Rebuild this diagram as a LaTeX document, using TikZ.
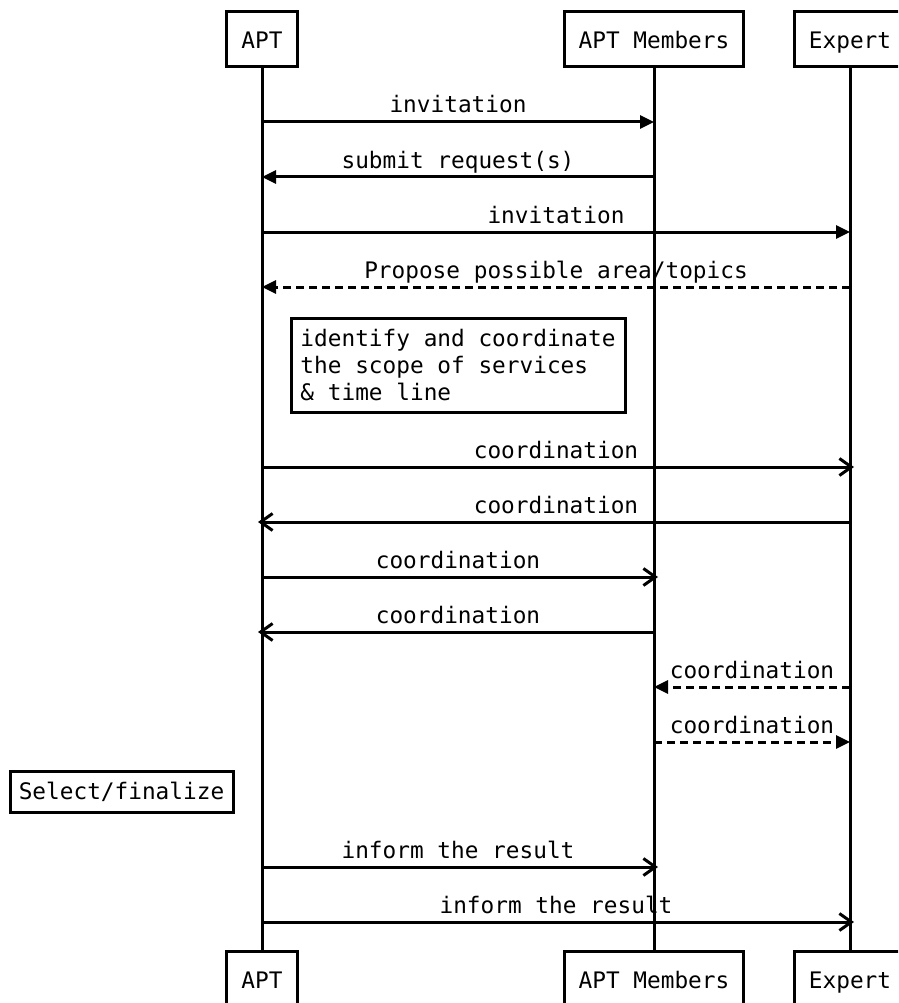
\documentclass[tikz,border=0pt]{standalone}
\usepackage{fontspec}
\newfontfamily\dvm{DejaVu Sans Mono}
\usetikzlibrary{arrows.meta}
\begin{document}
\begin{tikzpicture}[x=1pt,y=-1pt,
  every node/.style={font=\dvm\fontsize{22.75}{27}\selectfont},
  actor/.style={draw,line width=3pt,fill=white,minimum height=55pt,inner xsep=14.5pt,inner ysep=0pt,text height=24pt,text depth=5pt},
  life/.style={line width=3pt},
  msg/.style={line width=3pt},
  filled/.style={-{Triangle[length=14pt,width=13pt]}},
  open/.style={-{Straight Barb[length=12pt,width=17pt,line width=3pt]},shorten >=-4pt},
  dsh/.style={dash pattern=on 8pt off 5pt},
  lbl/.style={anchor=base,yshift=9pt,inner sep=0pt},
  note/.style={draw,line width=3pt,align=left,inner sep=8pt}
]
\useasboundingbox (0,0) rectangle (898,1003);
\clip (0,0) rectangle (898,1003);
\fill[white] (0,0) rectangle (898,1003);
% top actors
\node[actor] (apt) at (262,39.5) {APT};
\node[actor] (mem) at (654,39.5) {APT Members};
\node[actor] (exp) at (850,39.5) {Expert};
% bottom actors
\node[actor] (aptb) at (262,978.5) {APT};
\node[actor] (memb) at (654,978.5) {APT Members};
\node[actor] (expb) at (850,978.5) {Expert};
% lifelines
\draw[life] (apt) -- (aptb);
\draw[life] (mem) -- (memb);
\draw[life] (exp) -- (expb);
% messages
\draw[msg,filled] (apt |- 0,122) -- node[lbl]{invitation} (mem |- 0,122);
\draw[msg,filled] (mem |- 0,177) -- node[lbl]{submit request(s)} (apt |- 0,177);
\draw[msg,filled] (apt |- 0,232) -- node[lbl]{invitation} (exp |- 0,232);
\draw[msg,filled,dsh] (exp |- 0,287) -- node[lbl]{Propose possible area/topics} (apt |- 0,287);
\node[note,minimum width=334pt,minimum height=94pt] (scope) at (458,365) {identify and coordinate\\the scope of services\\\& time line};
\draw[msg,open] (apt |- 0,467) -- node[lbl]{coordination} (exp |- 0,467);
\draw[msg,open] (exp |- 0,522) -- node[lbl]{coordination} (apt |- 0,522);
\draw[msg,open] (apt |- 0,577) -- node[lbl]{coordination} (mem |- 0,577);
\draw[msg,open] (mem |- 0,632) -- node[lbl]{coordination} (apt |- 0,632);
\draw[msg,filled,dsh] (exp |- 0,687) -- node[lbl]{coordination} (mem |- 0,687);
\draw[msg,filled,dsh] (mem |- 0,742) -- node[lbl]{coordination} (exp |- 0,742);
\node[note,minimum width=223pt,minimum height=41pt,inner ysep=0pt] (sel) at (121.5,791.5) {Select/finalize};
\draw[msg,open] (apt |- 0,867) -- node[lbl]{inform the result} (mem |- 0,867);
\draw[msg,open] (apt |- 0,922) -- node[lbl]{inform the result} (exp |- 0,922);
\end{tikzpicture}
\end{document}
